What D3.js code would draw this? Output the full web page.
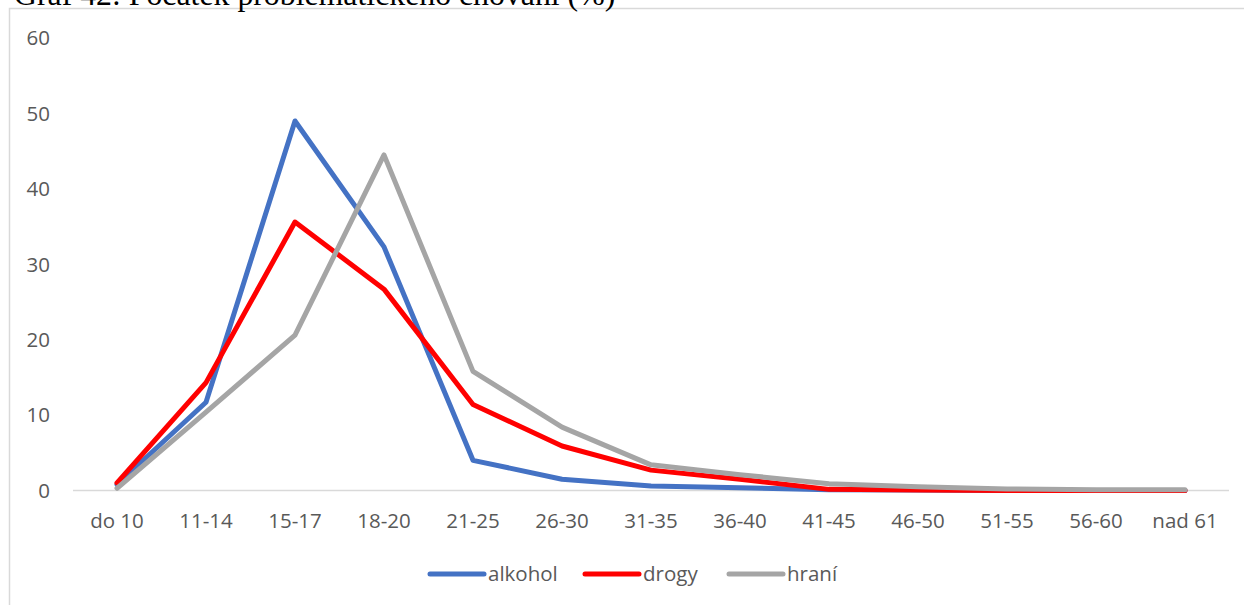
<!DOCTYPE html>
<html><head><meta charset="utf-8">
<script src="https://cdn.jsdelivr.net/npm/d3@7"></script>
<style>
html,body{margin:0;padding:0;background:#fff;overflow:hidden;}
svg{display:block;}
</style></head>
<body>
<svg id="c" width="1244" height="605"></svg>
<script>
const title = "Graf 42: Počátek problematického chování (%)";
const categories = ["do 10","11-14","15-17","18-20","21-25","26-30","31-35","36-40","41-45","46-50","51-55","56-60","nad 61"];
const alkohol = [0.8, 11.7, 49.0, 32.3, 4.0, 1.5, 0.6, 0.35, 0.1, 0.05, 0, 0, 0];
const drogy   = [1.0, 14.3, 35.6, 26.7, 11.4, 5.9, 2.7, 1.5, 0.15, 0.05, 0, 0, 0];
const hrani   = [0.3, 10.4, 20.6, 44.5, 15.8, 8.4, 3.4, 2.1, 0.9, 0.5, 0.2, 0.1, 0.1];
const seriesNames = ["alkohol","drogy","hraní"];
const seriesColors = ["#4472C4","#FF0000","#A5A5A5"];
const yTicks = [0,10,20,30,40,50,60];

const series = [alkohol, drogy, hrani].map((v,i)=>({name:seriesNames[i], color:seriesColors[i], values:v}));

const svg = d3.select("#c");
const font = "'Open Sans', sans-serif";
const fs = 20.5;

// chart frame
svg.append("rect").attr("x",9.5).attr("y",8.5).attr("width",1260).attr("height",620)
  .attr("fill","#fff").attr("stroke","#d9d9d9").attr("stroke-width",1.5);

// title (clipped at top, as in the reference)
svg.append("text").attr("x",14).attr("y",4.5)
  .attr("font-family","'Liberation Serif','Times New Roman',serif").attr("font-size",31.8)
  .attr("fill","#000").text(title);

const x = d3.scalePoint().domain(categories).range([117, 1185]);
const y = d3.scaleLinear().domain([0,60]).range([490.5, 38]);

// y labels
svg.append("g").selectAll("text").data(yTicks).join("text")
  .attr("x",50).attr("y",d=>y(d)).attr("dy","0.36em").attr("text-anchor","end")
  .attr("font-family",font).attr("font-size",fs).attr("fill","#595959").text(d=>d);

// x axis line
svg.append("line").attr("x1",73).attr("x2",1229).attr("y1",y(0)).attr("y2",y(0))
  .attr("stroke","#d9d9d9").attr("stroke-width",1.5);

// x labels
svg.append("g").selectAll("text").data(categories).join("text")
  .attr("x",d=>x(d)).attr("y",528).attr("text-anchor","middle")
  .attr("font-family",font).attr("font-size",fs).attr("fill","#595959").text(d=>d);

const line = d3.line().x((d,i)=>x(categories[i])).y(d=>y(d));
svg.append("g").selectAll("path").data(series).join("path")
  .attr("d",d=>line(d.values)).attr("fill","none").attr("stroke",d=>d.color)
  .attr("stroke-width",5).attr("stroke-linejoin","round").attr("stroke-linecap","round");

// legend
const legX = [430, 585, 729];
const lg = svg.append("g").selectAll("g").data(series).join("g")
  .attr("transform",(d,i)=>`translate(${legX[i]},574)`);
lg.append("line").attr("x1",0).attr("x2",54).attr("y1",0).attr("y2",0)
  .attr("stroke",d=>d.color).attr("stroke-width",5).attr("stroke-linecap","round");
lg.append("text").attr("x",58).attr("y",0).attr("dy","0.36em")
  .attr("font-family",font).attr("font-size",fs).attr("fill","#595959").text(d=>d.name);
</script>
</body></html>
